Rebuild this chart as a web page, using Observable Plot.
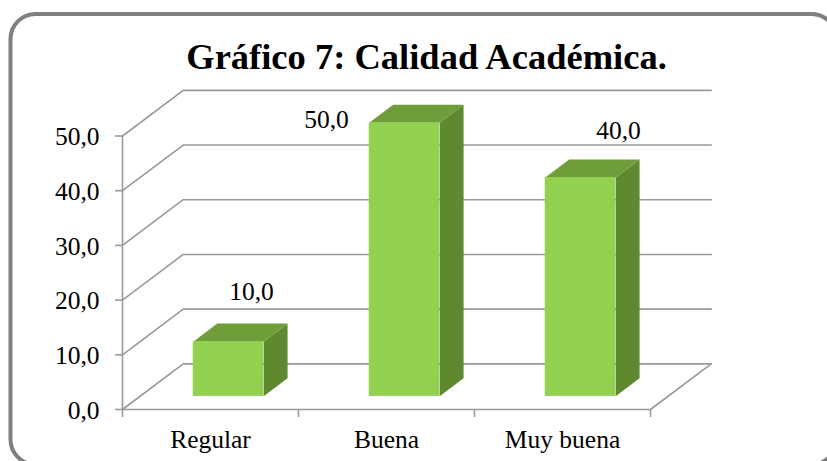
<!DOCTYPE html>
<html>
<head>
<meta charset="utf-8">
<script src="https://cdn.jsdelivr.net/npm/d3@7"></script>
<script src="https://cdn.jsdelivr.net/npm/@observablehq/plot@0.6"></script>
<style>
html,body{margin:0;padding:0;background:#fff;overflow:hidden}
svg{display:block}
</style>
</head>
<body>
<div id="chart"></div>
<script>
const titleText = "Gráfico 7: Calidad Académica.";
const categories = ["Regular", "Buena", "Muy buena"];
const values = [10, 50, 40];
const valueLabels = ["10,0", "50,0", "40,0"];
const yTicks = [0, 10, 20, 30, 40, 50];
const catBounds = [0, 1, 2, 3];
const labelDx = [23, -78, 38];
const labelDy = [-50, -3, -47];

// 3D projection expressed in data units (1 x unit = one category, y in %)
const wallDX = 0.345, wallDY = 8.35;      // floor / wall depth
const barDX = 0.136, barDY = 3.3;         // depth of a bar
const baseDX = 0.102, baseDY = 2.4;       // bar front plane offset inside the floor
const barW = 0.4;

const grey = "#999999";
const frontColor = "#92d050", sideColor = "#5e8a2f", topColor = "#6f9d3a";

const gridPts = yTicks.flatMap(v => [
  {v, x: 0, y: v},
  {v, x: wallDX, y: v + wallDY},
  {v, x: 3 + wallDX, y: v + wallDY}
]);
const floorEdge = [
  {x: 0, y: 0}, {x: 3, y: 0}, {x: 3 + wallDX, y: wallDY}
];
const axisLine = [{x: 0, y: 0}, {x: 0, y: 50}];

const bars = categories.map((c, i) => {
  const x1 = i + 0.5 + baseDX - barW / 2, x2 = x1 + barW;
  return {c, i, x1, x2, y1: baseDY, y2: baseDY + values[i]};
});
const sidePts = bars.flatMap(b => [
  {id: b.c, x: b.x2, y: b.y1}, {id: b.c, x: b.x2 + barDX, y: b.y1 + barDY},
  {id: b.c, x: b.x2 + barDX, y: b.y2 + barDY}, {id: b.c, x: b.x2, y: b.y2}
]);
const topPts = bars.flatMap(b => [
  {id: b.c, x: b.x1, y: b.y2}, {id: b.c, x: b.x2, y: b.y2},
  {id: b.c, x: b.x2 + barDX, y: b.y2 + barDY}, {id: b.c, x: b.x1 + barDX, y: b.y2 + barDY}
]);

const chart = Plot.plot({
  width: 827, height: 461,
  marginLeft: 122, marginRight: 177, marginTop: 135.5, marginBottom: 52,
  x: {domain: [0, 3]},
  y: {domain: [0, 50]},
  style: {fontFamily: "'Liberation Serif', serif", background: "#fff", color: "#000"},
  marks: [
    Plot.frame({stroke: "#7f7f7f", strokeWidth: 4, rx: 25,
      insetLeft: -112, insetTop: -122, insetRight: -186, insetBottom: -55}),
    Plot.line(gridPts, {x: "x", y: "y", z: "v", stroke: grey, strokeWidth: 1.6}),
    Plot.line(floorEdge, {x: "x", y: "y", stroke: grey, strokeWidth: 1.6}),
    Plot.line(axisLine, {x: "x", y: "y", stroke: grey, strokeWidth: 1.6}),
    Plot.axisY({ticks: yTicks, tickSize: 7, tickFormat: () => null, label: null, stroke: grey, strokeWidth: 1.6}),
    Plot.axisY({ticks: yTicks, tickSize: 0, tickPadding: 23, label: null, fontSize: 25.5, dy: 1,
      tickFormat: d => d.toFixed(1).replace(".", ",")}),
    Plot.axisX({ticks: catBounds, tickSize: 8, tickFormat: () => null, label: null, stroke: grey, strokeWidth: 1.6}),
    Plot.axisX({ticks: catBounds.slice(0, 3).map(d => d + 0.5), tickSize: 0, tickPadding: 20, label: null, fontSize: 25.5,
      tickFormat: d => categories[d - 0.5]}),
    Plot.line(sidePts, {x: "x", y: "y", z: "id", fill: sideColor, stroke: null}),
    Plot.line(topPts, {x: "x", y: "y", z: "id", fill: topColor, stroke: null}),
    Plot.rect(bars, {x1: "x1", x2: "x2", y1: "y1", y2: "y2", fill: frontColor}),
    ...bars.map((b, i) => Plot.text([valueLabels[i]], {
      x: (b.x1 + b.x2) / 2, y: b.y2, text: d => d,
      dx: labelDx[i], dy: labelDy[i], fontSize: 25.5, fill: "#000"
    })),
    Plot.text([titleText], {frameAnchor: "top", text: d => d, dx: 40, dy: -78.5, lineAnchor: "middle",
      fontSize: 36.5, fontWeight: "bold", fill: "#000"})
  ]
});
document.getElementById("chart").appendChild(chart);
</script>
</body>
</html>
